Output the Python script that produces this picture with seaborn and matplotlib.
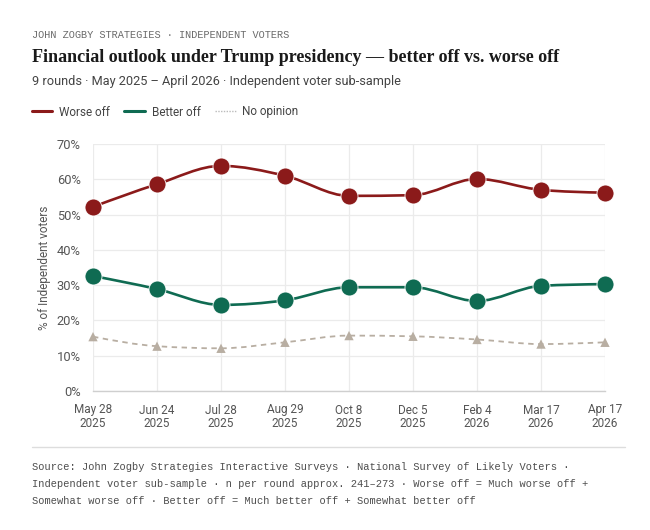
import matplotlib
matplotlib.use("Agg")
import matplotlib.pyplot as plt
from matplotlib.path import Path
from matplotlib.patches import PathPatch
from matplotlib.lines import Line2D
import numpy as np
import pandas as pd
import seaborn as sns

# --- data ---
rounds = ["May 28\n2025", "Jun 24\n2025", "Jul 28\n2025", "Aug 29\n2025", "Oct 8\n2025",
          "Dec 5\n2025", "Feb 4\n2026", "Mar 17\n2026", "Apr 17\n2026"]
worse_off = [52.2, 58.6, 63.8, 61.0, 55.3, 55.5, 60.1, 57.0, 56.2]
better_off = [32.6, 28.9, 24.4, 25.7, 29.4, 29.4, 25.5, 29.8, 30.3]
no_opinion = [15.4, 12.7, 12.1, 13.8, 15.7, 15.5, 14.6, 13.3, 13.8]
yticks = [0, 10, 20, 30, 40, 50, 60, 70]

RED = "#8b1a1a"
GREEN = "#0f6b52"
GREY = "#b8aea2"

sns.set_theme(style="white")
plt.rcParams['font.family'] = ['Roboto', 'DejaVu Sans']


def monotone_path(xs, ys):
    # d3 curveMonotoneX as cubic bezier segments
    xs = np.asarray(xs, float)
    ys = np.asarray(ys, float)
    n = len(xs)
    h = np.diff(xs)
    s = np.diff(ys) / h
    t = np.zeros(n)
    for i in range(1, n - 1):
        p = (s[i - 1] * h[i] + s[i] * h[i - 1]) / (h[i - 1] + h[i])
        t[i] = (np.sign(s[i - 1]) + np.sign(s[i])) * min(abs(s[i - 1]), abs(s[i]), 0.5 * abs(p))
    t[0] = (3 * s[0] - t[1]) / 2
    t[-1] = (3 * s[-1] - t[-2]) / 2
    verts = [(xs[0], ys[0])]
    codes = [Path.MOVETO]
    for i in range(n - 1):
        dx = h[i] / 3
        verts += [(xs[i] + dx, ys[i] + dx * t[i]),
                  (xs[i + 1] - dx, ys[i + 1] - dx * t[i + 1]),
                  (xs[i + 1], ys[i + 1])]
        codes += [Path.CURVE4] * 3
    return Path(verts, codes)


df = pd.DataFrame({"x": range(len(rounds)), "worse": worse_off,
                   "better": better_off, "none": no_opinion})

fig = plt.figure(figsize=(6.5, 5.3), dpi=100)
ax = fig.add_axes([93 / 650, 1 - 391 / 530, 512 / 650, 247 / 530])

# lines
ax.add_patch(PathPatch(monotone_path(df.x, df.none), fill=False, edgecolor=GREY,
                       lw=1.3, linestyle=(0, (3, 2.5)), zorder=2))
ax.add_patch(PathPatch(monotone_path(df.x, df.better), fill=False, edgecolor=GREEN,
                       lw=1.9, zorder=3))
ax.add_patch(PathPatch(monotone_path(df.x, df.worse), fill=False, edgecolor=RED,
                       lw=1.9, zorder=3))

# markers
sns.scatterplot(data=df, x="x", y="none", ax=ax, marker="^", s=45, color=GREY,
                edgecolor="none", zorder=4, clip_on=False)
sns.scatterplot(data=df, x="x", y="better", ax=ax, marker="o", s=150, color=GREEN,
                edgecolor="white", linewidth=0.6, zorder=5, clip_on=False)
sns.scatterplot(data=df, x="x", y="worse", ax=ax, marker="o", s=150, color=RED,
                edgecolor="white", linewidth=0.6, zorder=5, clip_on=False)

ax.set_xlim(0, len(rounds) - 1)
ax.set_ylim(0, 70)
ax.set_xticks(range(len(rounds)))
ax.set_xticklabels(rounds, linespacing=1.05)
ax.set_yticks(yticks)
ax.set_yticklabels([f"{v}%" for v in yticks])
ax.tick_params(axis="both", length=0, labelsize=8.5, labelcolor="#555555")
ax.tick_params(axis="y", labelsize=9.3)
ax.tick_params(axis="x", pad=9)
ax.tick_params(axis="y", pad=9)
ax.set_xlabel("")
ax.set_ylabel("% of Independent voters", fontsize=8.5, color="#555555", labelpad=4)
ax.grid(True, color="#ebebeb", lw=0.9)
ax.set_axisbelow(True)
for side in ["top", "right", "left"]:
    ax.spines[side].set_visible(False)
ax.spines["bottom"].set_color("#cfcfcf")
ax.spines["bottom"].set_linewidth(1.0)

# header texts
fig.text(32 / 650, 1 - 35 / 530, "JOHN ZOGBY STRATEGIES · INDEPENDENT VOTERS",
         family=["Liberation Mono", "DejaVu Sans Mono"], fontsize=7.4, color="#6a6a6a", va="center")
fig.text(32 / 650, 1 - 57 / 530,
         "Financial outlook under Trump presidency — better off vs. worse off",
         family=["Liberation Serif", "DejaVu Serif"], fontsize=13, fontweight="bold",
         color="#1a1a1a", va="center")
fig.text(32 / 650, 1 - 82 / 530, "9 rounds · May 2025 – April 2026 · Independent voter sub-sample",
         fontsize=9.2, color="#444444", va="center")

# legend
handles = [Line2D([], [], color=RED, lw=2.2),
           Line2D([], [], color=GREEN, lw=2.2),
           Line2D([], [], color="#bbbbbb", lw=1.0, linestyle=(0, (1, 1)))]
fig.legend(handles, ["Worse off", "Better off", "No opinion"], loc="center left",
           bbox_to_anchor=(21 / 650, 1 - 112 / 530), ncol=3, frameon=False,
           fontsize=8.5, handlelength=1.75, handletextpad=0.55, columnspacing=1.25,
           labelcolor="#444444")

# footer
fig.add_artist(Line2D([32 / 650, 625 / 650], [1 - 447 / 530, 1 - 447 / 530],
                      color="#dddddd", lw=1.0))
footer = ["Source: John Zogby Strategies Interactive Surveys · National Survey of Likely Voters ·",
          "Independent voter sub-sample · n per round approx. 241–273 · Worse off = Much worse off +",
          "Somewhat worse off · Better off = Much better off + Somewhat better off"]
for i, line in enumerate(footer):
    fig.text(32 / 650, 1 - (467.5 + 16.7 * i) / 530, line,
             family=["Liberation Mono", "DejaVu Sans Mono"], fontsize=7.5,
             color="#4d4d4d", va="center")

fig.savefig("out.png", dpi=100, facecolor="white")
